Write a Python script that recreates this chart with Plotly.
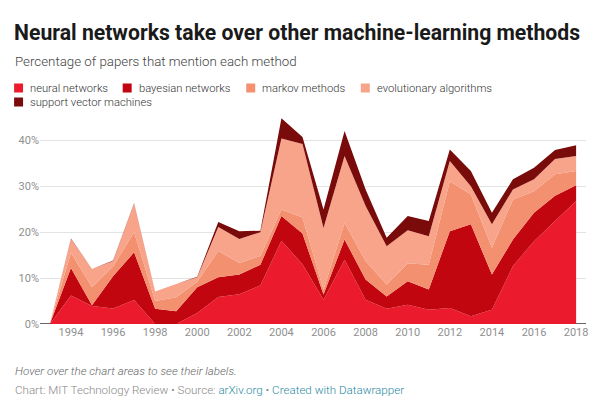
import plotly.graph_objects as go

years = list(range(1993, 2019))
neural_networks = [0, 6.2, 3.9, 3.4, 5.2, 0.0, 0.0, 2.4, 5.9, 6.5, 8.4, 18.1, 13.0, 5.3, 14.0, 5.3, 3.3, 4.2, 3.1, 3.5, 1.7, 3.1, 12.6, 18.0, 22.4, 26.8]
bayesian_networks = [0, 6.0, 0.2, 7.0, 10.4, 3.3, 2.8, 5.6, 4.3, 4.3, 4.5, 5.4, 6.7, 1.1, 4.4, 4.4, 2.7, 5.1, 4.4, 16.7, 20.0, 7.7, 5.8, 6.2, 5.5, 3.4]
markov_methods = [0, 3.3, 3.9, 2.1, 4.4, 1.7, 3.0, 1.2, 5.7, 2.5, 1.9, 1.4, 3.5, 1.1, 3.6, 4.0, 2.6, 3.9, 5.4, 10.9, 6.5, 5.8, 8.7, 4.7, 4.7, 3.1]
evolutionary_algorithms = [0, 3.0, 4.0, 1.2, 6.2, 2.1, 2.9, 1.0, 5.2, 5.2, 5.2, 15.5, 16.0, 13.4, 14.6, 12.0, 8.3, 7.2, 6.2, 4.4, 1.8, 5.1, 2.2, 2.6, 3.3, 3.3]
support_vector_machines = [0, 0.1, 0, 0.1, 0.1, 0, 0, 0.1, 1.1, 1.7, 0.3, 4.4, 1.5, 4.0, 5.4, 3.6, 1.9, 3.1, 3.3, 2.5, 3.3, 2.5, 2.2, 2.5, 2.0, 2.3]

series_names = ["neural networks", "bayesian networks", "markov methods",
                "evolutionary algorithms", "support vector machines"]
series_values = [neural_networks, bayesian_networks, markov_methods,
                 evolutionary_algorithms, support_vector_machines]
colors = ["#ec1a2d", "#c1060f", "#f3906f", "#f7a48a", "#7a0b0b"]

y_ticks = [0, 10, 20, 30, 40]
y_tick_labels = ["0%", "10%", "20%", "30%", "40%"]
x_ticks = list(range(1994, 2019, 2))

FONT = "Roboto, 'Noto Sans', sans-serif"

fig = go.Figure()
for name, vals, col in zip(series_names, series_values, colors):
    fig.add_trace(go.Scatter(
        x=years, y=vals, name=name, stackgroup="one", mode="lines",
        line=dict(width=0, color=col), fillcolor=col, showlegend=False,
        hovertemplate="%{x}: %{y:.1f}%<extra>" + name + "</extra>",
    ))

W, H = 600, 400
ML, MR, MT, MB = 40, 12, 115, 76
PW, PH = W - ML - MR, H - MT - MB

def px(x):
    return (x - ML) / PW

def py(y):
    return (H - MB - y) / PH

annotations = [
    dict(text="<b>Neural networks take over other machine-learning methods</b>",
         x=px(12), y=py(33), xanchor="left", yanchor="middle",
         font=dict(size=21.2, color="#1a1a1a", family=FONT)),
    dict(text="Percentage of papers that mention each method",
         x=px(13), y=py(62), xanchor="left", yanchor="middle",
         font=dict(size=13.3, color="#444444", family=FONT, weight=300)),
    dict(text="<i>Hover over the chart areas to see their labels.</i>",
         x=px(13), y=py(371), xanchor="left", yanchor="middle",
         font=dict(size=11.6, color="#666666", family=FONT, weight=300)),
    dict(text="Chart: MIT Technology Review • Source: <span style='color:#2a8aa3'>arXiv.org</span> • "
              "<span style='color:#2a8aa3'>Created with Datawrapper</span>",
         x=px(13), y=py(390), xanchor="left", yanchor="middle",
         font=dict(size=11.6, color="#888888", family=FONT, weight=300)),
]

# legend (swatch x, text x, row y)
legend_pos = [(14, 28, 88), (123, 137, 88), (247, 261, 88), (362, 376, 88), (14, 28, 102)]
shapes = []
for (sx, tx, ry), name, col in zip(legend_pos, series_names, colors):
    shapes.append(dict(type="rect", xref="paper", yref="paper",
                       x0=px(sx), x1=px(sx + 9), y0=py(ry + 4.5), y1=py(ry - 4.5),
                       fillcolor=col, line=dict(width=0)))
    annotations.append(dict(text=name, x=px(tx), y=py(ry), xanchor="left", yanchor="middle",
                            font=dict(size=11.2, color="#333333", family=FONT, weight=300)))

shapes.append(dict(type="line", xref="paper", yref="y", x0=0, x1=1, y0=0, y1=0,
                   line=dict(color="#333333", width=1.5), layer="below"))

for a in annotations:
    a.update(xref="paper", yref="paper", showarrow=False)

fig.update_layout(
    width=W, height=H,
    margin=dict(l=ML, r=MR, t=MT, b=MB),
    paper_bgcolor="white", plot_bgcolor="white",
    font=dict(family=FONT, size=11, color="#999999"),
    annotations=annotations, shapes=shapes,
    hovermode="closest",
    xaxis=dict(range=[1992.53, 2018.47], tickvals=x_ticks, showgrid=False,
               zeroline=False, showline=False, ticks="",
               tickfont=dict(size=11, color="#8f8f8f", family=FONT)),
    yaxis=dict(range=[0, 45.5], tickvals=y_ticks, ticktext=y_tick_labels,
               showgrid=True, gridcolor="#e3e3e3", gridwidth=1, zeroline=False,
               showline=False, ticks="",
               tickfont=dict(size=11, color="#8f8f8f", family=FONT)),
)

fig.write_html("out.html", config={"displayModeBar": False},
               post_script="document.body.style.margin='0';document.body.style.overflow='hidden';")
